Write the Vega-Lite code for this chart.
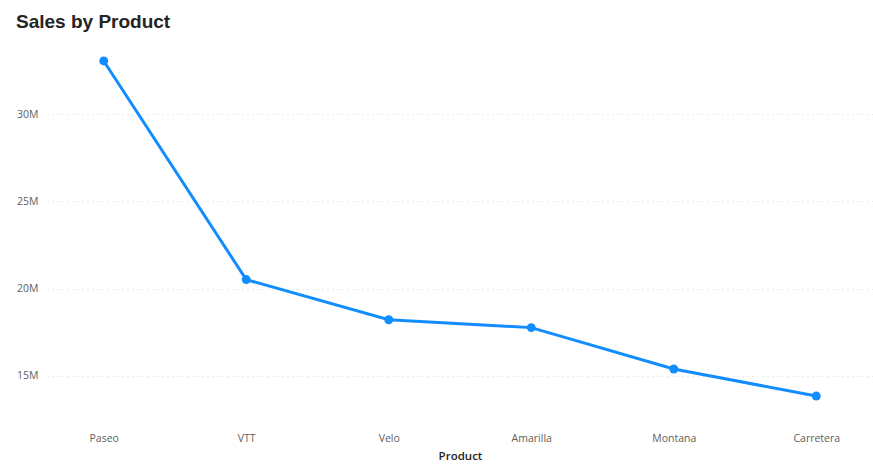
{
  "$schema": "https://vega.github.io/schema/vega-lite/v6.json",
  "autosize": "none",
  "width": 826,
  "height": 380,
  "padding": {"left": 47, "top": 40, "right": 0, "bottom": 46},
  "background": "white",
  "title": {
    "text": "Sales by Product",
    "anchor": "start",
    "frame": "group",
    "dx": -31,
    "offset": 8,
    "font": "Liberation Sans",
    "fontSize": 19,
    "fontWeight": "bold",
    "color": "#252423"
  },
  "data": {
    "values": [
      {"Product": "Paseo", "Sales": 33040000},
      {"Product": "VTT", "Sales": 20520000},
      {"Product": "Velo", "Sales": 18220000},
      {"Product": "Amarilla", "Sales": 17770000},
      {"Product": "Montana", "Sales": 15400000},
      {"Product": "Carretera", "Sales": 13850000}
    ]
  },
  "config": {"view": {"stroke": null}},
  "encoding": {
    "x": {
      "field": "Product",
      "type": "nominal",
      "sort": null,
      "scale": {"type": "point", "padding": 0.398},
      "axis": {
        "labelAngle": 0,
        "domain": false,
        "ticks": false,
        "labelFont": "Open Sans",
        "labelFontSize": 10.5,
        "labelColor": "#605E5C",
        "labelPadding": 13,
        "title": "Product",
        "titleFont": "Open Sans",
        "titleFontSize": 11.5,
        "titleFontWeight": 600,
        "titleColor": "#252423",
        "titlePadding": 7
      }
    },
    "y": {
      "field": "Sales",
      "type": "quantitative",
      "scale": {"domain": [12480000, 34240000], "nice": false, "zero": false},
      "axis": {
        "values": [15000000, 20000000, 25000000, 30000000],
        "format": "~s",
        "title": null,
        "domain": false,
        "ticks": false,
        "labelFont": "Open Sans",
        "labelFontSize": 10.5,
        "labelColor": "#605E5C",
        "labelPadding": 9,
        "gridColor": "#D6D6D6",
        "gridDash": [1, 4],
        "gridWidth": 1
      }
    }
  },
  "layer": [
    {"mark": {"type": "line", "color": "#118DFF", "strokeWidth": 3}},
    {"mark": {"type": "point", "filled": true, "color": "#118DFF", "opacity": 1, "size": 80}}
  ]
}
